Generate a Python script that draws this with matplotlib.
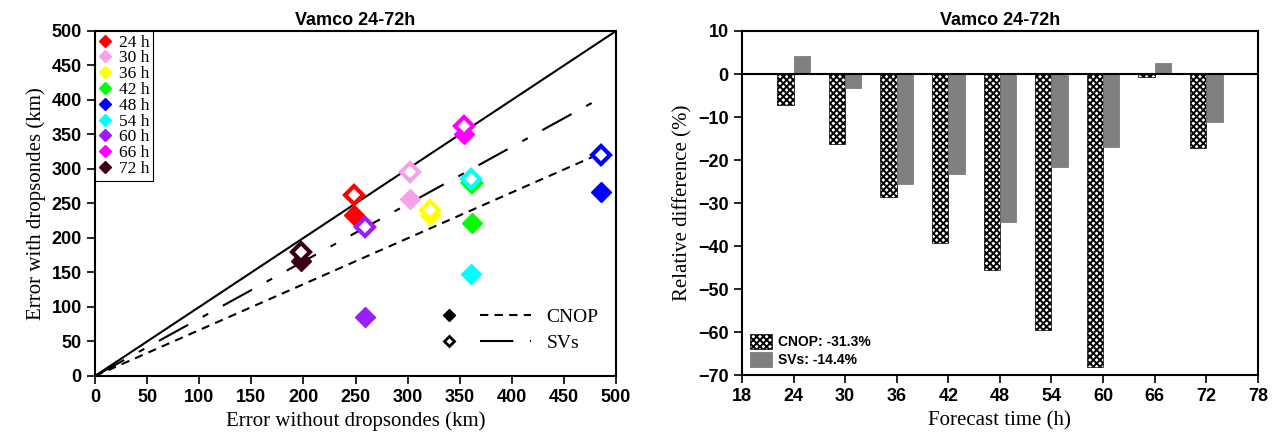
import numpy as np
import matplotlib
matplotlib.use("Agg")
import matplotlib.pyplot as plt
from matplotlib.lines import Line2D
from matplotlib.legend_handler import HandlerTuple

# forecast lead times (h)
times = [24, 30, 36, 42, 48, 54, 60, 66, 72]
time_labels = ["24 h", "30 h", "36 h", "42 h", "48 h", "54 h", "60 h", "66 h", "72 h"]
time_colors = ["#ff0000", "#f7a1ec", "#ffff00", "#00ff00", "#0000ff",
               "#00ffff", "#9b1cff", "#ff00ff", "#3c0012"]

# track errors (km)
err_without = [249, 302, 321, 362, 486, 361, 259, 354, 198]
err_cnop = [233, 256, 233, 222, 266, 148, 85, 351, 166]
err_svs = [262, 295, 241, 279, 320, 286, 216, 363, 179]

# fitted lines through origin
fit_x_end = 485
cnop_slope = 0.665
svs_slope = 0.83

# relative difference (%)
cnop_rel = [-7.2, -16.2, -28.7, -39.2, -45.5, -59.5, -68.1, -0.7, -17.3]
svs_rel = [4.1, -3.3, -25.5, -23.2, -34.5, -21.7, -17.0, 2.6, -11.1]
cnop_mean = "-31.3%"
svs_mean = "-14.4%"

title = "Vamco 24-72h"

plt.rcParams["hatch.linewidth"] = 1.4
serif = ["Liberation Serif", "DejaVu Serif"]
sans = ["Liberation Sans", "DejaVu Sans"]

fig = plt.figure(figsize=(12.77, 4.46), dpi=100)
fig.patch.set_facecolor("white")

# ---------------- left: scatter ----------------
ax = fig.add_axes([0.0744, 0.157, 0.408, 0.7735])
ax.plot([0, 500], [0, 500], color="black", lw=1.5)
ax.plot([0, fit_x_end], [0, cnop_slope * fit_x_end], color="black", lw=1.5,
        linestyle=(0, (4, 3)))
ax.plot([0, fit_x_end], [0, svs_slope * fit_x_end], color="black", lw=1.5,
        linestyle=(0, (16, 8, 3, 8)))

for i in range(len(times)):
    ax.plot(err_without[i], err_cnop[i], marker="D", ms=10, color=time_colors[i],
            mec=time_colors[i], linestyle="none", zorder=3)
    ax.plot(err_without[i], err_svs[i], marker="D", ms=9, mfc="white",
            mec=time_colors[i], mew=3, linestyle="none", zorder=4)

ax.set_xlim(0, 500)
ax.set_ylim(0, 500)
ax.set_xticks(np.arange(0, 501, 50))
ax.set_yticks(np.arange(0, 501, 50))
ax.tick_params(direction="out", length=6, width=1.2, labelsize=13)
for lab in ax.get_xticklabels() + ax.get_yticklabels():
    lab.set_fontweight("bold")
    lab.set_family(sans)
for sp in ax.spines.values():
    sp.set_linewidth(1.5)
ax.set_xlabel("Error without dropsondes (km)", family=serif, fontsize=15)
ax.set_ylabel("Error with dropsondes (km)", family=serif, fontsize=15)
ax.set_title(title, family=sans, fontweight="bold", fontsize=13, pad=4)

h_times = [Line2D([], [], marker="D", ms=6, color=c, linestyle="none") for c in time_colors]
leg1 = ax.legend(h_times, time_labels, loc="upper left", bbox_to_anchor=(0, 1),
                 prop={"family": serif, "size": 12.5}, frameon=True, fancybox=False,
                 edgecolor="black", framealpha=1, handlelength=0.8, handletextpad=0.4,
                 labelspacing=-0.02, borderpad=0.2, borderaxespad=0)
leg1.get_frame().set_linewidth(0.8)
ax.add_artist(leg1)

m_cnop = Line2D([], [], marker="D", ms=6, color="black", linestyle="none")
m_svs = Line2D([], [], marker="D", ms=5, mfc="white", mec="black", mew=2, linestyle="none")
l_cnop = Line2D([], [], color="black", lw=1.5, linestyle=(0, (4, 3)))
l_svs = Line2D([], [], color="black", lw=1.5, linestyle=(0, (16, 8, 3, 8)))
ax.legend([(m_cnop, l_cnop), (m_svs, l_svs)], ["CNOP", "SVs"],
          handler_map={tuple: HandlerTuple(ndivide=None, pad=0.3)},
          loc="lower right", bbox_to_anchor=(1.0, 0.02), frameon=False,
          prop={"family": serif, "size": 14}, handlelength=5.5, labelspacing=0.4)

# ---------------- right: bars ----------------
bx = fig.add_axes([0.581, 0.159, 0.404, 0.7715])
t = np.array(times)
bw = 1.9
bx.bar(t - bw / 2, cnop_rel, width=bw, color="white", edgecolor="black", hatch="xxxxx",
       lw=0.5, label="CNOP: " + cnop_mean)
bx.bar(t + bw / 2, svs_rel, width=bw, color="#808080", edgecolor="#707070",
       lw=0.5, label="SVs: " + svs_mean)
bx.axhline(0, color="black", lw=1.5)
bx.set_xlim(18, 78)
bx.set_ylim(-70, 10)
bx.set_xticks(np.arange(18, 79, 6))
bx.set_yticks(np.arange(-70, 11, 10))
bx.tick_params(direction="out", length=6, width=1.2, labelsize=13)
for lab in bx.get_xticklabels() + bx.get_yticklabels():
    lab.set_fontweight("bold")
    lab.set_family(sans)
for sp in bx.spines.values():
    sp.set_linewidth(1.5)
bx.set_xlabel("Forecast time (h)", family=serif, fontsize=15)
bx.set_ylabel("Relative difference (%)", family=serif, fontsize=15)
bx.set_title(title, family=sans, fontweight="bold", fontsize=13, pad=4)
bx.legend(loc="lower left", frameon=False, prop={"family": sans, "size": 10, "weight": "bold"},
          handlelength=1.6, handleheight=1.3, handletextpad=0.4, labelspacing=0.2,
          borderaxespad=0.2)

fig.savefig("out.png", dpi=100)
